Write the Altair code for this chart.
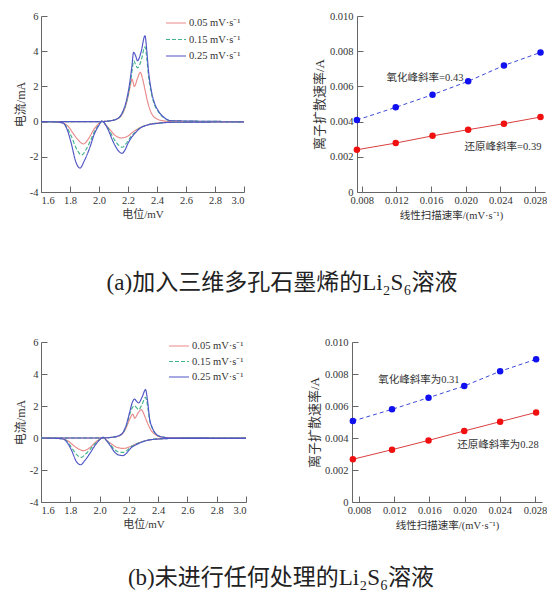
import altair as alt
import pandas as pd

# ---------------- shared labels ----------------
RATES = ["0.05 mV·s⁻¹", "0.15 mV·s⁻¹", "0.25 mV·s⁻¹"]
CV_COLORS = ["#e98a8a", "#3fb489", "#5156c6"]
CV_DASH = [[1, 0], [4, 2], [1, 0]]
CV_X_TICKS = [1.6, 1.8, 2.0, 2.2, 2.4, 2.6, 2.8, 3.0]
CV_Y_TICKS = [-4, -2, 0, 2, 4, 6]
RT_X_TICKS = [0.008, 0.012, 0.016, 0.020, 0.024, 0.028]
RT_Y_TICKS = [0, 0.002, 0.004, 0.006, 0.008, 0.010]

CAPTION_A = "(a)加入三维多孔石墨烯的Li₂S₆溶液"
CAPTION_B = "(b)未进行任何处理的Li₂S₆溶液"

# ---------------- panel (a) CV ----------------
A_OX_V_005 = [1.60, 2.00, 2.08, 2.13, 2.16, 2.18, 2.20, 2.215, 2.228, 2.236, 2.244, 2.265, 2.285, 2.30, 2.32, 2.336, 2.355, 2.37, 2.40, 2.44, 2.50, 3.00]
A_OX_I_005 = [0.00, 0.00, 0.05, 0.17, 0.42, 0.80, 1.40, 2.00, 2.42, 2.20, 1.99, 2.45, 2.80, 2.45, 1.70, 1.10, 0.60, 0.36, 0.15, 0.05, 0.01, 0.00]
A_OX_V_015 = [1.60, 2.00, 2.08, 2.13, 2.16, 2.186, 2.209, 2.225, 2.24, 2.252, 2.266, 2.29, 2.317, 2.33, 2.34, 2.36, 2.381, 2.41, 2.44, 2.50, 3.00]
A_OX_I_015 = [0.00, 0.00, 0.05, 0.16, 0.45, 1.00, 1.85, 2.70, 3.45, 3.25, 3.05, 3.45, 4.25, 3.55, 2.70, 1.65, 1.00, 0.55, 0.27, 0.05, 0.00]
A_OX_V_025 = [1.60, 2.00, 2.08, 2.13, 2.16, 2.186, 2.209, 2.225, 2.239, 2.252, 2.266, 2.29, 2.317, 2.33, 2.34, 2.36, 2.381, 2.41, 2.44, 2.50, 3.00]
A_OX_I_025 = [0.00, 0.00, 0.05, 0.18, 0.50, 1.10, 2.04, 3.00, 3.94, 3.75, 3.46, 3.95, 4.88, 4.00, 3.00, 1.80, 1.10, 0.60, 0.30, 0.05, 0.00]

A_RE_V_005 = [1.60, 1.70, 1.75, 1.79, 1.82, 1.86, 1.894, 1.915, 1.933, 1.968, 2.00, 2.019, 2.05, 2.08, 2.11, 2.13, 2.152, 2.175, 2.20, 2.23, 2.26, 2.30, 2.35, 2.405, 2.50, 3.00]
A_RE_I_005 = [0.00, -0.02, -0.08, -0.30, -0.65, -1.08, -1.27, -1.12, -0.90, -0.40, -0.10, 0.03, -0.22, -0.50, -0.78, -0.88, -0.93, -0.90, -0.82, -0.62, -0.45, -0.28, -0.15, -0.08, -0.03, -0.02]
A_RE_V_015 = [1.60, 1.70, 1.75, 1.78, 1.81, 1.845, 1.88, 1.91, 1.94, 1.97, 2.00, 2.019, 2.05, 2.075, 2.10, 2.125, 2.145, 2.162, 2.18, 2.20, 2.22, 2.244, 2.28, 2.336, 2.405, 2.50, 3.00]
A_RE_I_015 = [0.00, -0.02, -0.07, -0.35, -0.85, -1.55, -1.90, -1.60, -1.10, -0.55, -0.18, 0.03, -0.22, -0.55, -0.95, -1.25, -1.40, -1.46, -1.32, -1.10, -0.85, -0.65, -0.38, -0.18, -0.09, -0.04, -0.02]
A_RE_V_025 = [1.60, 1.70, 1.75, 1.779, 1.807, 1.841, 1.869, 1.899, 1.933, 1.968, 2.00, 2.019, 2.05, 2.071, 2.094, 2.117, 2.14, 2.159, 2.18, 2.198, 2.22, 2.244, 2.28, 2.336, 2.405, 2.50, 3.00]
A_RE_I_025 = [0.00, -0.02, -0.07, -0.42, -1.18, -2.31, -2.64, -2.22, -1.56, -0.70, -0.20, 0.03, -0.25, -0.61, -1.08, -1.45, -1.72, -1.80, -1.60, -1.27, -0.95, -0.70, -0.40, -0.19, -0.10, -0.04, -0.02]

# ---------------- panel (b) CV ----------------
B_OX_V_005 = [1.60, 2.00, 2.08, 2.13, 2.16, 2.18, 2.20, 2.215, 2.226, 2.233, 2.239, 2.262, 2.285, 2.30, 2.315, 2.33, 2.35, 2.376, 2.42, 2.48, 3.00]
B_OX_I_005 = [0.00, 0.00, 0.04, 0.12, 0.30, 0.60, 1.05, 1.35, 1.50, 1.38, 1.23, 1.55, 1.77, 1.55, 1.20, 0.875, 0.50, 0.25, 0.06, 0.01, 0.00]
B_OX_V_015 = [1.60, 2.00, 2.08, 2.13, 2.16, 2.185, 2.205, 2.224, 2.239, 2.252, 2.267, 2.29, 2.314, 2.328, 2.342, 2.36, 2.376, 2.40, 2.444, 2.50, 3.00]
B_OX_I_015 = [0.00, 0.00, 0.04, 0.13, 0.32, 0.82, 1.45, 1.90, 2.02, 1.90, 1.77, 2.10, 2.54, 2.00, 1.10, 0.60, 0.33, 0.14, 0.04, 0.01, 0.00]
B_OX_V_025 = [1.60, 2.00, 2.08, 2.13, 2.16, 2.185, 2.205, 2.224, 2.239, 2.252, 2.267, 2.29, 2.314, 2.328, 2.342, 2.36, 2.376, 2.40, 2.444, 2.50, 3.00]
B_OX_I_025 = [0.00, 0.00, 0.04, 0.14, 0.35, 0.90, 1.60, 2.23, 2.44, 2.30, 2.19, 2.55, 3.02, 2.30, 1.19, 0.65, 0.35, 0.15, 0.04, 0.01, 0.00]

B_RE_V_005 = [1.60, 1.70, 1.75, 1.79, 1.82, 1.86, 1.89, 1.915, 1.94, 1.97, 2.00, 2.024, 2.05, 2.08, 2.11, 2.14, 2.16, 2.18, 2.20, 2.23, 2.26, 2.30, 2.35, 2.41, 2.50, 3.00]
B_RE_I_005 = [0.00, -0.02, -0.06, -0.22, -0.45, -0.70, -0.79, -0.72, -0.55, -0.28, -0.08, 0.04, -0.16, -0.36, -0.55, -0.63, -0.65, -0.63, -0.57, -0.45, -0.33, -0.20, -0.11, -0.05, -0.02, -0.02]
B_RE_V_015 = [1.60, 1.70, 1.75, 1.78, 1.81, 1.845, 1.875, 1.90, 1.935, 1.97, 2.00, 2.024, 2.05, 2.075, 2.10, 2.12, 2.14, 2.16, 2.18, 2.20, 2.22, 2.25, 2.29, 2.34, 2.41, 2.50, 3.00]
B_RE_I_015 = [0.00, -0.02, -0.05, -0.24, -0.62, -1.05, -1.21, -1.05, -0.72, -0.35, -0.10, 0.05, -0.17, -0.42, -0.70, -0.84, -0.89, -0.90, -0.82, -0.67, -0.52, -0.38, -0.23, -0.11, -0.05, -0.03, -0.02]
B_RE_V_025 = [1.60, 1.70, 1.75, 1.78, 1.81, 1.84, 1.87, 1.90, 1.935, 1.97, 2.00, 2.024, 2.05, 2.075, 2.10, 2.12, 2.14, 2.16, 2.18, 2.20, 2.22, 2.25, 2.29, 2.34, 2.41, 2.50, 3.00]
B_RE_I_025 = [0.00, -0.02, -0.06, -0.30, -0.80, -1.45, -1.67, -1.40, -0.95, -0.45, -0.12, 0.05, -0.20, -0.50, -0.85, -1.02, -1.08, -1.10, -0.98, -0.78, -0.58, -0.42, -0.25, -0.12, -0.06, -0.03, -0.02]

# ---------------- diffusion-rate panels ----------------
A_SCAN = [0.00744, 0.01192, 0.01617, 0.02028, 0.02441, 0.02863]
A_OX_RATE = [0.00409, 0.00481, 0.00553, 0.00629, 0.00719, 0.00793]
A_RE_RATE = [0.00240, 0.00278, 0.00319, 0.00354, 0.00388, 0.00426]
A_NOTES = ["氧化峰斜率=0.43", "还原峰斜率=0.39"]
A_NOTE_X = [0.01530, 0.02430]
A_NOTE_Y = [0.00648, 0.00256]

B_SCAN = [0.00730, 0.01175, 0.01590, 0.01996, 0.02404, 0.02813]
B_OX_RATE = [0.00506, 0.00579, 0.00652, 0.00725, 0.00817, 0.00892]
B_RE_RATE = [0.00267, 0.00327, 0.00385, 0.00444, 0.00502, 0.00560]
B_NOTES = ["氧化峰斜率为0.31", "还原峰斜率为0.28"]
B_NOTE_X = [0.01480, 0.02380]
B_NOTE_Y = [0.00763, 0.00356]

SERIF = "Liberation Serif, Noto Sans CJK SC"
AXIS_C = "#666666"
TEXT_C = "#333333"
INWARD = {"expr": "-6"}


def cv_panel(curves, width, height, leg_x, leg_rows):
    rows = []
    for rate, branch, vs, cs in curves:
        for v, c in zip(vs, cs):
            rows.append({"V": v, "I": c, "rate": rate, "branch": rate + branch})
    df = pd.DataFrame(rows)
    xs = alt.Scale(domain=[1.6, 3.0], nice=False, zero=False)
    ys = alt.Scale(domain=[-4, 6], nice=False, zero=False)
    cscale = alt.Scale(domain=RATES, range=CV_COLORS)
    dscale = alt.Scale(domain=RATES, range=CV_DASH)
    lines = alt.Chart(df).mark_line(strokeWidth=1.15, interpolate="monotone").encode(
        x=alt.X("V:Q", scale=xs, axis=alt.Axis(
            title="电位/mV", values=CV_X_TICKS, format=".1f", titleFontSize=11, titlePadding=3,
            labelOverlap=False, tickSize=INWARD, labelPadding=9)),
        y=alt.Y("I:Q", scale=ys, axis=alt.Axis(
            title="电流/mA", values=CV_Y_TICKS, titleFontSize=12, titlePadding=2, labelOverlap=False,
            tickSize=INWARD, labelPadding=9,
            labelExpr="datum.value < 0 ? '-' + abs(datum.value) : '' + datum.value")),
        color=alt.Color("rate:N", scale=cscale, legend=None),
        strokeDash=alt.StrokeDash("rate:N", scale=dscale, legend=None),
        detail="branch:N",
    )
    lscale = alt.Scale(type="point", domain=RATES, range=leg_rows, padding=0)
    ldf = pd.DataFrame({"rate": RATES})
    leg_l = alt.Chart(ldf).mark_rule(strokeWidth=1.2).encode(
        x=alt.value(leg_x), x2=alt.value(leg_x + 20),
        y=alt.Y("rate:N", scale=lscale, axis=None),
        color=alt.Color("rate:N", scale=cscale, legend=None),
        strokeDash=alt.StrokeDash("rate:N", scale=dscale, legend=None))
    leg_t = alt.Chart(ldf).mark_text(font="Liberation Serif", fontSize=10.5, color=TEXT_C,
                                     align="left", baseline="middle").encode(
        x=alt.value(leg_x + 23), y=alt.Y("rate:N", scale=lscale, axis=None), text="rate:N")
    return alt.layer(lines, leg_l, leg_t).resolve_scale(y="independent").properties(
        width=width, height=height)


def rate_panel(scan, ox, re, notes, nx, ny, xdom, width, height):
    df = pd.DataFrame({
        "s": scan + scan,
        "r": ox + re,
        "k": ["ox"] * len(scan) + ["re"] * len(scan),
    })
    xs = alt.Scale(domain=xdom, nice=False, zero=False)
    ys = alt.Scale(domain=[0, 0.010], nice=False)
    xax = alt.Axis(title="线性扫描速率/(mV·s⁻¹)", values=RT_X_TICKS, format=".3f",
                   titleFontSize=10.5, titlePadding=5, labelOverlap=False,
                   tickSize=INWARD, labelPadding=9)
    yax = alt.Axis(title="离子扩散速率/A", values=RT_Y_TICKS, titleFontSize=13, titlePadding=3,
                   labelPadding=10, labelOverlap=False, tickSize=INWARD,
                   labelExpr="datum.value == 0 ? '0' : format(datum.value, '.3f')")
    X = alt.X("s:Q", scale=xs, axis=xax)
    Y = alt.Y("r:Q", scale=ys, axis=yax)
    base = alt.Chart(df)
    ox_line = base.transform_filter("datum.k == 'ox'").mark_line(
        color="#3c4ad8", strokeWidth=1, strokeDash=[4, 3]).encode(x=X, y=Y)
    re_line = base.transform_filter("datum.k == 're'").mark_line(
        color="#d94040", strokeWidth=1).encode(x=X, y=Y)
    pts = base.mark_circle(size=42, opacity=1).encode(
        x=X, y=Y,
        fill=alt.Fill("k:N", scale=alt.Scale(domain=["ox", "re"], range=["#1010f0", "#f01010"]), legend=None))
    txt = alt.Chart(pd.DataFrame({"t": notes, "s": nx, "r": ny})).mark_text(
        font=SERIF, fontSize=10.5, color=TEXT_C, align="center", baseline="middle").encode(
        x=X, y=Y, text="t:N")
    return alt.layer(ox_line, re_line, pts, txt).properties(width=width, height=height)


def caption(text, width, height, cx, cy):
    return alt.Chart(pd.DataFrame({"t": [text]})).mark_text(
        font=SERIF, fontSize=23, color="#222222", align="center", baseline="middle").encode(
        text="t:N", x=alt.value(cx), y=alt.value(cy)).properties(width=width, height=height)


a_left = cv_panel([
    (RATES[0], "ox", A_OX_V_005, A_OX_I_005), (RATES[1], "ox", A_OX_V_015, A_OX_I_015),
    (RATES[2], "ox", A_OX_V_025, A_OX_I_025), (RATES[0], "re", A_RE_V_005, A_RE_I_005),
    (RATES[1], "re", A_RE_V_015, A_RE_I_015), (RATES[2], "re", A_RE_V_025, A_RE_I_025),
], 203, 176, 125, [7, 40])
b_left = cv_panel([
    (RATES[0], "ox", B_OX_V_005, B_OX_I_005), (RATES[1], "ox", B_OX_V_015, B_OX_I_015),
    (RATES[2], "ox", B_OX_V_025, B_OX_I_025), (RATES[0], "re", B_RE_V_005, B_RE_I_005),
    (RATES[1], "re", B_RE_V_015, B_RE_I_015), (RATES[2], "re", B_RE_V_025, B_RE_I_025),
], 205, 160, 128, [4, 35])

a_right = rate_panel(A_SCAN, A_OX_RATE, A_RE_RATE, A_NOTES, A_NOTE_X, A_NOTE_Y,
                     [0.00745, 0.02915], 188, 176)
b_right = rate_panel(B_SCAN, B_OX_RATE, B_RE_RATE, B_NOTES, B_NOTE_X, B_NOTE_Y,
                     [0.00720, 0.02880], 190, 160)

IND = dict(color="independent", strokeDash="independent", fill="independent")
row_a = alt.hconcat(a_left, a_right, spacing=66).resolve_scale(**IND)
row_b = alt.hconcat(b_left, b_right, spacing=59).resolve_scale(**IND)

chart = alt.vconcat(
    row_a,
    caption(CAPTION_A, 500, 108, 241, 58),
    row_b,
    caption(CAPTION_B, 500, 60, 240, 43),
    spacing=4,
).resolve_scale(**IND).properties(
    padding={"left": 6, "top": 3, "right": 0, "bottom": 0}
).configure_view(stroke=None).configure_axis(
    grid=False, domainColor=AXIS_C, tickColor=AXIS_C, labelColor=TEXT_C, titleColor=TEXT_C,
    labelFont="Liberation Serif", labelFontSize=10.5, titleFont=SERIF, titleFontWeight="normal",
    labelOverlap=False,
)

chart.save("out.html", embed_options={"renderer": "svg", "actions": False})
